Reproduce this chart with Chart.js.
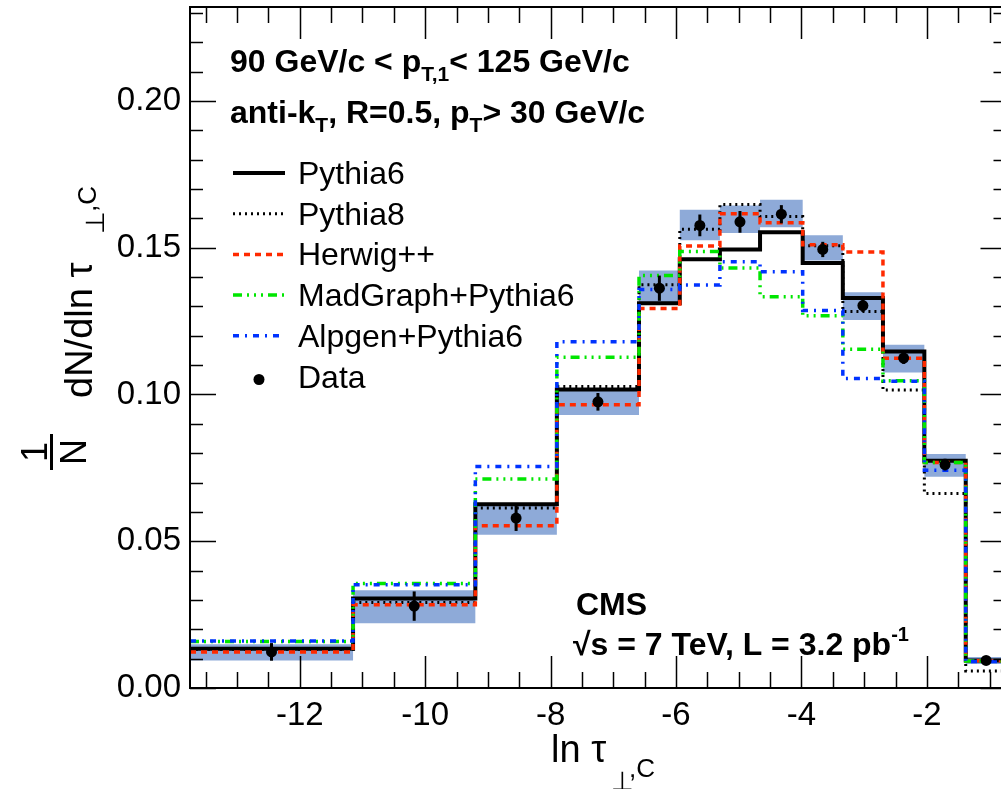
<!DOCTYPE html>
<html><head><meta charset="utf-8">
<script src="https://cdn.jsdelivr.net/npm/chart.js@4/dist/chart.umd.min.js"></script>
<style>html,body{margin:0;padding:0;background:#fff;overflow:hidden;width:1001px;height:789px}canvas{display:block}</style>
</head><body>
<canvas id="c" width="1012" height="789"></canvas>
<script>
// ---- data ----
const binEdges = [-13.75, -11.15, -9.2, -7.9, -6.59, -5.94, -5.3, -4.66, -3.98, -3.34, -2.7, -2.04, -1.38, -0.73];
const pythia6  = [0.0134, 0.0305, 0.0626, 0.1017, 0.1311, 0.1461, 0.1494, 0.1553, 0.1448, 0.1329, 0.1146, 0.0774, 0.0094];
const pythia8  = [0.0132, 0.0291, 0.0613, 0.1027, 0.1374, 0.1563, 0.1647, 0.1606, 0.1507, 0.1283, 0.1015, 0.0663, 0.0058];
const herwig   = [0.0123, 0.0284, 0.0553, 0.0965, 0.1293, 0.1506, 0.1616, 0.1585, 0.1510, 0.1485, 0.1123, 0.0768, 0.0093];
const madgraph = [0.0158, 0.0356, 0.0712, 0.1127, 0.1405, 0.1487, 0.1431, 0.1333, 0.1268, 0.1154, 0.1047, 0.0768, 0.0092];
const alpgen   = [0.0160, 0.0352, 0.0755, 0.1180, 0.1358, 0.1373, 0.1452, 0.1418, 0.1286, 0.1054, 0.1045, 0.0742, 0.0090];
const dataVal  = [0.0123, 0.0279, 0.0579, 0.0975, 0.1362, 0.1576, 0.1588, 0.1614, 0.1494, 0.1303, 0.1124, 0.0761, 0.0094];
const dataErr  = [0.0030, 0.0050, 0.0044, 0.0030, 0.0043, 0.0037, 0.0037, 0.0031, 0.0026, 0.0022, 0.0020, 0.0020, 0.0012];
const systLow  = [0.0094, 0.0221, 0.0522, 0.0930, 0.1309, 0.1525, 0.1550, 0.1570, 0.1456, 0.1254, 0.1075, 0.0720, 0.0082];
const systHigh = [0.0149, 0.0333, 0.0626, 0.1015, 0.1422, 0.1629, 0.1644, 0.1663, 0.1542, 0.1348, 0.1169, 0.0797, 0.0106];
const xTicks = [-12, -10, -8, -6, -4, -2];
const yTicks = [0.00, 0.05, 0.10, 0.15, 0.20];
const seriesNames = ["Pythia6", "Pythia8", "Herwig++", "MadGraph+Pythia6", "Alpgen+Pythia6", "Data"];

const FONT = '"Liberation Sans", Arial, Helvetica, sans-serif';
const BAND = 'rgb(142,170,216)';
const RED = '#ff2a00', GREEN = '#00e600', BLUE = '#0033ff';

function steps(vals){
  const pts = vals.map((v,i)=>({x: binEdges[i], y: v}));
  pts.push({x: binEdges[binEdges.length-1], y: vals[vals.length-1]});
  return pts;
}
const centers = dataVal.map((v,i)=>({x:(binEdges[i]+binEdges[i+1])/2, y:v}));

const styles = {
  Pythia6:  {color:'#000', width:4, dash:[]},
  Pythia8:  {color:'#000', width:3, dash:[2,4]},
  'Herwig++': {color:RED, width:3.5, dash:[6,5]},
  'MadGraph+Pythia6': {color:GREEN, width:3.5, dash:[9,5,2,5,2,5,2,5]},
  'Alpgen+Pythia6': {color:BLUE, width:3.5, dash:[6,6,2,6]}
};
function lineDS(label, vals){
  const s = styles[label];
  return {label, data: steps(vals), stepped: true, borderColor: s.color, borderWidth: s.width,
    borderDash: s.dash, pointRadius: 0, fill: false, borderCapStyle:'butt'};
}

// Chart.js draws dataset 0 last (on top): data first, band last
const datasets = [
  {label:'Data', data: centers, showLine:false, pointRadius:5.5, pointBackgroundColor:'#000', pointBorderColor:'#000', pointBorderWidth:0, pointHoverRadius:5.5},
  lineDS('Alpgen+Pythia6', alpgen),
  lineDS('MadGraph+Pythia6', madgraph),
  lineDS('Herwig++', herwig),
  lineDS('Pythia8', pythia8),
  lineDS('Pythia6', pythia6),
  {label:'systHigh', data: steps(systHigh), stepped:true, borderWidth:0, pointRadius:0, fill:7, backgroundColor: BAND, borderColor:'rgba(0,0,0,0)'},
  {label:'systLow', data: steps(systLow), stepped:true, borderWidth:0, pointRadius:0, fill:false, borderColor:'rgba(0,0,0,0)'}
];

function richText(ctx, x, y, parts){
  let cx = x;
  for (const p of parts){
    ctx.font = (p.bold?'bold ':'') + p.size + 'px ' + FONT;
    ctx.fillText(p.t, cx, y + (p.dy||0));
    cx += ctx.measureText(p.t).width + (p.gap||0);
  }
  return cx;
}

const errPlugin = {
  id:'errbars',
  beforeDatasetDraw(chart, args){
    if (args.index !== 0) return;
    const {ctx, scales:{x, y}} = chart;
    ctx.save();
    ctx.strokeStyle = '#000'; ctx.lineWidth = 3;
    centers.forEach((p,i)=>{
      const px = x.getPixelForValue(p.x);
      ctx.beginPath();
      ctx.moveTo(px, y.getPixelForValue(p.y - dataErr[i]));
      ctx.lineTo(px, y.getPixelForValue(p.y + dataErr[i]));
      ctx.stroke();
    });
    ctx.restore();
  }
};

const framePlugin = {
  id:'frame',
  afterDraw(chart){
    const {ctx, chartArea:a, scales:{x, y}} = chart;
    ctx.save();
    ctx.strokeStyle = '#000'; ctx.lineWidth = 2;
    ctx.strokeRect(a.left, a.top, a.right-a.left, a.bottom-a.top);
    ctx.lineWidth = 1.5;
    ctx.beginPath();
    for (let v = -13.5; v <= -0.75; v += 0.5){
      const px = Math.round(x.getPixelForValue(v)) + 0.5;
      const major = Math.abs(v/2 - Math.round(v/2)) < 1e-6;
      const L = major ? 32 : 16;
      ctx.moveTo(px, a.bottom); ctx.lineTo(px, a.bottom - L);
      ctx.moveTo(px, a.top); ctx.lineTo(px, a.top + L);
    }
    for (let k = 0; k <= 23; k++){
      const v = k/100;
      const py = Math.round(y.getPixelForValue(v)) + 0.5;
      const major = k % 5 === 0;
      const L = major ? 26 : 13;
      ctx.moveTo(a.left, py); ctx.lineTo(a.left + L, py);
      ctx.moveTo(a.right, py); ctx.lineTo(a.right - L, py);
    }
    ctx.stroke();
    ctx.restore();
  }
};

const textPlugin = {
  id:'texts',
  afterDraw(chart){
    const ctx = chart.ctx;
    ctx.save();
    ctx.fillStyle = '#000';
    ctx.textBaseline = 'alphabetic';
    ctx.textAlign = 'left';
    richText(ctx, 230, 72, [
      {t:'90 GeV/c < p', size:32, bold:true},
      {t:'T,1', size:21, bold:true, dy:9},
      {t:'< 125 GeV/c', size:32, bold:true}
    ]);
    richText(ctx, 230, 123, [
      {t:'anti-k', size:32, bold:true},
      {t:'T', size:21, bold:true, dy:9},
      {t:', R=0.5, p', size:32, bold:true},
      {t:'T', size:21, bold:true, dy:9},
      {t:'> 30 GeV/c', size:32, bold:true}
    ]);
    const ly0 = 173, dy = 40.7;
    seriesNames.forEach((name,i)=>{
      const yy = ly0 + i*dy;
      if (name === 'Data'){
        ctx.beginPath(); ctx.arc(259, yy+3, 5.5, 0, Math.PI*2); ctx.fill();
      } else {
        const s = styles[name];
        ctx.save();
        ctx.strokeStyle = s.color; ctx.lineWidth = s.width; ctx.setLineDash(s.dash);
        ctx.beginPath(); ctx.moveTo(233, yy); ctx.lineTo(285, yy); ctx.stroke();
        ctx.restore();
      }
      ctx.font = '32px ' + FONT;
      ctx.fillText(name, 298, yy + 11);
    });
    ctx.font = 'bold 32px ' + FONT;
    ctx.fillText('CMS', 576, 615);
    richText(ctx, 573, 655, [
      {t:'\u221As = 7 TeV, L = 3.2 pb', size:32, bold:true},
      {t:'-1', size:20, bold:true, dy:-14}
    ]);
    richText(ctx, 551, 762, [{t:'ln \u03C4', size:38}]);
    ctx.font = '26px ' + FONT;
    ctx.fillText('\u22A5', 611, 790);
    ctx.fillText(',C', 629, 777);
    ctx.save();
    ctx.rotate(-Math.PI/2);
    ctx.font = '36px ' + FONT;
    ctx.textAlign = 'center';
    ctx.fillText('1', -452, 47);
    ctx.fillText('N', -452, 86);
    ctx.fillRect(-470, 50, 36, 3);
    ctx.textAlign = 'left';
    ctx.font = '38px ' + FONT;
    ctx.fillText('dN/dln \u03C4', -398, 92);
    ctx.font = '26px ' + FONT;
    ctx.fillText(',C', -212, 96);
    ctx.fillText('\u22A5', -234, 104);
    ctx.restore();
    ctx.restore();
  }
};

new Chart(document.getElementById('c'), {
  type:'line',
  data:{datasets},
  options:{
    responsive:false, animation:false, devicePixelRatio:1,
    layout:{padding:{left:0, top:7, right:2, bottom:0}},
    plugins:{legend:{display:false}, tooltip:{enabled:false}, filler:{propagate:false}},
    scales:{
      x:{type:'linear', min: binEdges[0], max: binEdges[binEdges.length-1],
        afterBuildTicks(s){ s.ticks = xTicks.map(v=>({value:v})); },
        afterFit(s){ s.height = 101; s.paddingLeft = 0; s.paddingRight = 0; },
        grid:{display:false, drawTicks:false}, border:{display:false},
        ticks:{color:'#000', font:{family:FONT, size:33}, padding:8, maxRotation:0, autoSkip:false,
          callback:(v)=>String(v)}
      },
      y:{type:'linear', min:0, max:0.232,
        afterBuildTicks(s){ s.ticks = yTicks.map(v=>({value:v})); },
        afterFit(s){ s.width = 190; s.paddingTop = 0; s.paddingBottom = 0; },
        grid:{display:false, drawTicks:false}, border:{display:false},
        ticks:{color:'#000', font:{family:FONT, size:33}, padding:9,
          callback:(v)=>Number(v).toFixed(2)}
      }
    }
  },
  plugins:[errPlugin, framePlugin, textPlugin]
});
</script>
</body></html>
